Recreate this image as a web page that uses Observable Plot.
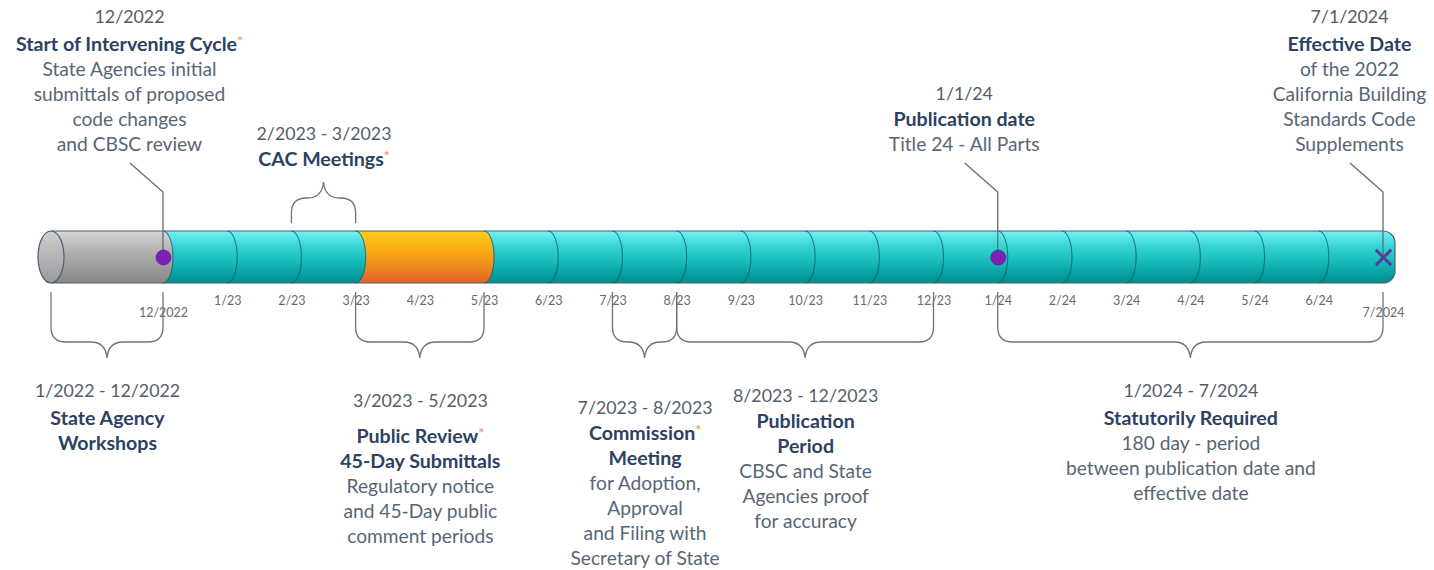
<!DOCTYPE html>
<html>
<head>
<meta charset="utf-8">
<script src="https://cdn.jsdelivr.net/npm/d3@7"></script>
<script src="https://cdn.jsdelivr.net/npm/@observablehq/plot@0.6"></script>
<style>
  body { margin: 0; background: #fff; }
  svg { display: block; }
</style>
</head>
<body>
<div id="chart"></div>
<script>
// ================= DATA =================
// month index: months since 12/2022 (1/2022 = -11, the compressed grey section)
const tickMonths = [0, 1, 2, 3, 4, 5, 6, 7, 8, 9, 10, 11, 12, 13, 14, 15, 16, 17, 18, 19];
const tickLabels = ["12/2022", "1/23", "2/23", "3/23", "4/23", "5/23", "6/23", "7/23", "8/23", "9/23",
                    "10/23", "11/23", "12/23", "1/24", "2/24", "3/24", "4/24", "5/24", "6/24", "7/2024"];

// cylinder sections
const segmentFrom  = [-11, 0, 3, 5];
const segmentTo    = [0, 3, 5, 19];
const segmentPhase = ["workshops", "drafting", "review", "adoption"];

// month rings drawn on the cylinder
const ringMonths = [0, 1, 2, 3, 5, 6, 7, 8, 9, 10, 11, 12, 13, 14, 15, 16, 17, 18];

// milestones (callouts above the bar)
const milestoneMonth  = [0, 13, 19];
const milestoneMarker = ["dot", "dot", "cross"];
const milestoneDate   = ["12/2022", "1/1/24", "7/1/2024"];
const milestoneTitle  = [["Start of Intervening Cycle*"], ["Publication date"], ["Effective Date"]];
const milestoneNote   = [
  ["State Agencies initial", "submittals of proposed", "code changes", "and CBSC review"],
  ["Title 24 - All Parts"],
  ["of the 2022", "California Building", "Standards Code", "Supplements"]
];

// periods (braces)
const periodFrom  = [-11, 2, 3, 7, 8, 13];
const periodTo    = [0, 3, 5, 8, 12, 19];
const periodSide  = ["below", "above", "below", "below", "below", "below"];
const periodDate  = ["1/2022 - 12/2022", "2/2023 - 3/2023", "3/2023 - 5/2023", "7/2023 - 8/2023", "8/2023 - 12/2023", "1/2024 - 7/2024"];
const periodTitle = [["State Agency", "Workshops"], ["CAC Meetings*"], ["Public Review*", "45-Day Submittals"],
                     ["Commission*", "Meeting"], ["Publication", "Period"], ["Statutorily Required"]];
const periodNote  = [
  [],
  [],
  ["Regulatory notice", "and 45-Day public", "comment periods"],
  ["for Adoption,", "Approval", "and Filing with", "Secretary of State"],
  ["CBSC and State", "Agencies proof", "for accuracy"],
  ["180 day - period", "between publication date and", "effective date"]
];

// ================= LAYOUT / STYLE =================
const greyCompression = 1.744 / 11;   // the 2022 section is drawn compressed
const barTop = 231, barBottom = 283, barMid = 257;
const ringRx = 10, faceRx = 13, capR = 12;
const lineStep = 25;
const milestoneDateY  = [17, 94, 17];
const milestoneTitleY = [44, 119, 44];
const milestoneDx = -34;
const periodDateY  = [391, 134, 401, 408, 396, 391];
const periodTitleY = [418, 159, 436, 433, 421, 418];
const braceBelow = {end: 292, tip: 358};
const braceAbove = {end: 223, tip: 182};
const leaderTop = 163, leaderKnee = 192;

const font = "Lato, 'Open Sans', sans-serif";
const fontSizes = {date: 17.8, note: 19.2, title: 19.6};
const colors = {
  date: "#535e6a", title: "#2c4260", note: "#566676", tick: "#6a6a6a",
  line: "#5f6d7b", brace: "#6b7580", outline: "#4a6076", ring: "#14606e",
  dot: "#7a22b6", cross: "#5a3b9c", star: "#f0a26a"
};
const gradientStops = {
  workshops: [[0, "#d6d6d6"], [0.4, "#b0b0b0"], [1, "#888888"]],
  drafting:  [[0, "#74f2f2"], [0.3, "#35d4d4"], [0.65, "#12b4b4"], [1, "#008d8d"]],
  review:    [[0, "#ffcd1c"], [0.45, "#f8a414"], [1, "#e1632b"]],
  adoption:  [[0, "#74f2f2"], [0.3, "#35d4d4"], [0.65, "#12b4b4"], [1, "#008d8d"]],
  face:      [[0, "#cfcfcf"], [1, "#9a9a9a"]]
};

// ================= TEXT TABLES =================
function buildRows(n, xOf, dateY, titleY, dates, titles, notes) {
  const rows = [];
  for (let i = 0; i < n; i++) {
    const x = xOf(i);
    rows.push({x, y: dateY[i], text: dates[i], kind: "date"});
    let y = titleY[i];
    for (const t of titles[i]) { rows.push({x, y, text: t, kind: "title"}); y += lineStep; }
    for (const t of notes[i]) { rows.push({x, y, text: t, kind: "note"}); y += lineStep; }
  }
  return rows;
}
const milestoneRows = buildRows(milestoneMonth.length, i => milestoneMonth[i],
  milestoneDateY, milestoneTitleY, milestoneDate, milestoneTitle, milestoneNote);
// each period lies within one linear piece of the scale, so its midpoint month is its drawn centre
const periodRows = buildRows(periodFrom.length, i => (periodFrom[i] + periodTo[i]) / 2,
  periodDateY, periodTitleY, periodDate, periodTitle, periodNote);

// ================= RENDER HELPERS =================
function withStar(index, scales, values, dims, ctx, next) {
  const g = next(index, scales, values, dims, ctx);
  d3.select(g).selectAll("text").each(function () {
    const s = this.textContent;
    if (s.endsWith("*")) {
      this.textContent = s.slice(0, -1);
      d3.select(this).append("tspan")
        .attr("fill", colors.star).attr("font-size", 14).attr("font-weight", "bold")
        .attr("dy", "-0.35em").text("*");
    }
  });
  return g;
}

function textMarks(rows, dx) {
  return ["date", "note", "title"].map(kind => {
    const opts = {
      x: "x", y: "y", dx, text: "text", fill: colors[kind],
      fontFamily: font, fontSize: fontSizes[kind], textAnchor: "middle"
    };
    if (kind === "title") { opts.fontWeight = "bold"; opts.render = withStar; }
    return Plot.text(rows.filter(r => r.kind === kind), opts);
  });
}

function cylinderRender(index, scales, values) {
  const {x1: X1, x2: X2, y1: Y1, y2: Y2} = values;
  const g = d3.create("svg:g");
  const defs = g.append("defs");
  for (const [key, stops] of Object.entries(gradientStops)) {
    const lg = defs.append("linearGradient").attr("id", "grad-" + key)
      .attr("x1", 0).attr("y1", 0).attr("x2", 0).attr("y2", 1);
    for (const [o, c] of stops) lg.append("stop").attr("offset", o).attr("stop-color", c);
  }
  const idx = Array.from(index);
  const last = idx[idx.length - 1];
  const first = idx[0];
  for (const i of idx.slice().reverse()) {
    const a = X1[i], b = X2[i], t = Y1[i], u = Y2[i], ry = (u - t) / 2;
    const d = i === last
      ? `M${a},${t}H${b}A${capR},${capR} 0 0 1 ${b + capR},${t + capR}V${u - capR}A${capR},${capR} 0 0 1 ${b},${u}H${a}Z`
      : `M${a},${t}H${b}A${ringRx},${ry} 0 0 1 ${b},${u}H${a}Z`;
    g.append("path").attr("d", d).attr("fill", `url(#grad-${segmentPhase[i]})`);
  }
  const a0 = X1[first], bN = X2[last], t = Y1[first], u = Y2[first];
  g.append("path")
    .attr("d", `M${a0},${t}H${bN}A${capR},${capR} 0 0 1 ${bN + capR},${t + capR}V${u - capR}A${capR},${capR} 0 0 1 ${bN},${u}H${a0}`)
    .attr("fill", "none").attr("stroke", colors.outline).attr("stroke-width", 1.2);
  g.append("ellipse").attr("cx", a0).attr("cy", (t + u) / 2).attr("rx", faceRx).attr("ry", (u - t) / 2)
    .attr("fill", "url(#grad-face)").attr("stroke", colors.outline).attr("stroke-width", 1.2);
  return g.node();
}

function ringRender(index, scales, values) {
  const g = d3.create("svg:g").attr("fill", "none").attr("stroke", colors.ring)
    .attr("stroke-width", 1.1).attr("stroke-opacity", 0.8);
  for (const i of index) {
    const x = values.x[i], t = values.y1[i], u = values.y2[i];
    g.append("path").attr("d", `M${x},${t}A${ringRx},${(u - t) / 2} 0 0 1 ${x},${u}`);
  }
  return g.node();
}

function leaderRender(index, scales, values) {
  const g = d3.create("svg:g").attr("fill", "none").attr("stroke", colors.line).attr("stroke-width", 1.3);
  for (const i of index) {
    const x = values.x[i];
    g.append("path").attr("d", `M${x + milestoneDx + 1},${values.y1[i]}L${x},${leaderKnee}L${x},${values.y2[i]}`);
  }
  return g.node();
}

function braceRender(index, scales, values) {
  const g = d3.create("svg:g").attr("fill", "none").attr("stroke", colors.brace).attr("stroke-width", 1.3);
  for (const i of index) {
    const a = values.x1[i], b = values.x2[i], yEnd = values.y1[i], yTip = values.y2[i];
    const dir = Math.sign(yTip - yEnd);
    const yBar = yTip - 16 * dir;
    const m = (a + b) / 2, half = (b - a) / 2;
    const r = Math.min(15, half / 2), tw = Math.min(16, half - r);
    const d = [
      `M${a},${yEnd}`, `L${a},${yBar - r * dir}`, `Q${a},${yBar} ${a + r},${yBar}`,
      `L${m - tw},${yBar}`, `C${m - tw * 0.4},${yBar} ${m - 1},${yBar + 5 * dir} ${m},${yTip}`,
      `C${m + 1},${yBar + 5 * dir} ${m + tw * 0.4},${yBar} ${m + tw},${yBar}`,
      `L${b - r},${yBar}`, `Q${b},${yBar} ${b},${yBar - r * dir}`, `L${b},${yEnd}`
    ].join("");
    g.append("path").attr("d", d);
  }
  return g.node();
}

// ================= PLOT =================
const chart = Plot.plot({
  width: 1434,
  height: 570,
  margin: 0,
  x: {
    transform: m => m < 0 ? m * greyCompression : m,
    domain: [-11 * greyCompression, 19], range: [51, 1383], axis: null
  },
  y: {domain: [0, 570], range: [0, 570], axis: null},
  style: {background: "#fff"},
  marks: [
    Plot.rect(segmentFrom, {
      x1: (d, i) => segmentFrom[i], x2: (d, i) => segmentTo[i],
      y1: () => barTop, y2: () => barBottom, render: cylinderRender
    }),
    Plot.ruleX(ringMonths, {x: d => d, y1: () => barTop, y2: () => barBottom, render: ringRender}),
    Plot.ruleX(milestoneMonth, {x: d => d, y1: () => leaderTop, y2: () => barMid, render: leaderRender}),
    Plot.dot(milestoneMonth.filter((d, i) => milestoneMarker[i] === "dot"),
      {x: d => d, y: () => barMid, r: 7.5, fill: colors.dot, stroke: "#6a1da0", strokeWidth: 0.8}),
    Plot.dot(milestoneMonth.filter((d, i) => milestoneMarker[i] === "cross"),
      {x: d => d, y: () => barMid, r: 7, symbol: "times", stroke: colors.cross, strokeWidth: 3}),
    Plot.text(tickMonths, {
      x: d => d,
      y: (d, i) => /\d{4}$/.test(tickLabels[i]) ? 312 : 300,
      text: (d, i) => tickLabels[i],
      fontFamily: font, fontSize: 12.5, fill: colors.tick
    }),
    Plot.rect(periodFrom, {
      x1: (d, i) => periodFrom[i], x2: (d, i) => periodTo[i],
      y1: (d, i) => periodSide[i] === "below" ? braceBelow.end : braceAbove.end,
      y2: (d, i) => periodSide[i] === "below" ? braceBelow.tip : braceAbove.tip,
      render: braceRender
    }),
    ...textMarks(milestoneRows, milestoneDx),
    ...textMarks(periodRows, 0)
  ]
});
document.getElementById("chart").appendChild(chart);
</script>
</body>
</html>
